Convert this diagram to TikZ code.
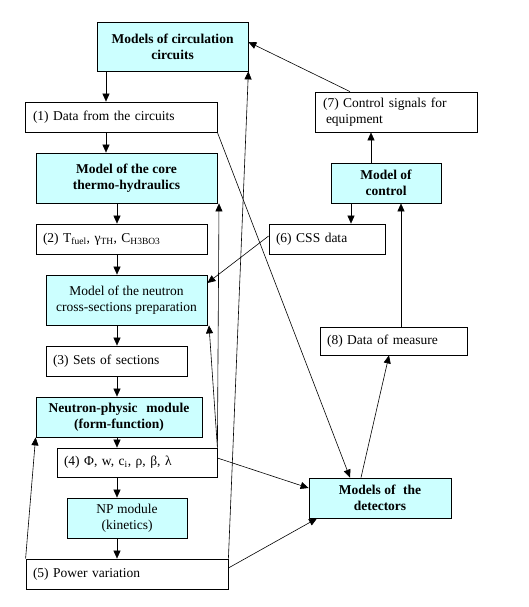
\documentclass[tikz,border=0pt]{standalone}
\usepackage{fontspec}
\setmainfont{Liberation Serif}
\usetikzlibrary{arrows.meta,calc}
\definecolor{cyanfill}{RGB}{204,255,255}
\newcommand{\dfs}{\fontsize{13.5}{16}\selectfont}
\begin{document}
\begin{tikzpicture}[x=1pt,y=-1pt,
  box/.style={draw, line width=0.8pt, inner sep=0pt, font=\dfs, fill=white},
  cbox/.style={box, fill=cyanfill, align=center},
  lbox/.style={box, align=left},
  arr/.style={line width=0.6pt, -{Triangle[length=8pt,width=7pt]}},
  ln/.style={line width=0.6pt}]
\useasboundingbox (0,0) rectangle (528,607);
% main column
\node[cbox, minimum width=151, minimum height=49] (circ) at (172.5,46.5) {\textbf{Models of circulation}\\\textbf{circuits}};
\node[lbox, minimum width=192, minimum height=30, text width=176] (d1) at (121,117) {(1) Data from the circuits};
\node[cbox, minimum width=181, minimum height=50] (core) at (126.5,178) {\textbf{Model of the core}\\\textbf{thermo-hydraulics}};
\node[lbox, minimum width=171, minimum height=30, text width=157] (d2) at (121.5,239) {(2) T\textsubscript{fuel}, γ\textsubscript{TH}, C\textsubscript{H3BO3}};
\node[cbox, minimum width=161, minimum height=50] (xs) at (126.5,300) {Model of the neutron\\cross-sections preparation};
\node[lbox, minimum width=141, minimum height=30, text width=127] (d3) at (116.5,361) {(3) Sets of sections};
\node[cbox, minimum width=166, minimum height=40] (npm) at (119,417) {\textbf{Neutron-physic\hspace{0.4em} module}\\\textbf{(form-function)}};
\node[lbox, minimum width=160, minimum height=29, text width=146] (d4) at (137,462.5) {(4) Φ, w, c\textsubscript{i}, ρ, β, λ};
\node[cbox, minimum width=120, minimum height=40] (kin) at (127,518) {NP module\\(kinetics)};
\node[lbox, minimum width=202, minimum height=30, text width=188] (d5) at (127,574) {(5) Power variation};
% right column
\node[lbox, minimum width=162, minimum height=40, text width=146] (d7) at (396,112) {(7) Control signals for\\\hspace{3pt}equipment};
\node[cbox, minimum width=110, minimum height=40] (ctrl) at (386,183) {\textbf{Model of}\\\textbf{control}};
\node[lbox, minimum width=116, minimum height=30, text width=102] (d6) at (327,239) {(6) CSS data};
\node[lbox, minimum width=147, minimum height=28, text width=133] (d8) at (393.5,341) {(8) Data of measure};
\node[cbox, minimum width=142, minimum height=40] (det) at (380,498) {\textbf{Models of\hspace{0.3em} the}\\\textbf{detectors}};
% vertical chain
\draw[arr] (circ.south -| 106,0) -- (d1.north -| 106,0);
\draw[arr] (d1.south -| 106,0) -- (core.north -| 106,0);
\draw[arr] (core.south -| 117,0) -- (d2.north -| 117,0);
\draw[arr] (d2.south -| 117,0) -- (xs.north -| 117,0);
\draw[arr] (xs.south -| 117,0) -- (d3.north -| 117,0);
\draw[arr] (d3.south -| 117,0) -- (npm.north -| 117,0);
\draw[arr] (npm.south -| 117,0) -- (d4.north -| 117,0);
\draw[arr] (d4.south -| 117,0) -- (kin.north -| 117,0);
\draw[arr] (kin.south -| 117,0) -- (d5.north -| 117,0);
% right chain
\draw[arr] (ctrl.north -| 371,0) -- (d7.south -| 371,0);
\draw[arr] (ctrl.south -| 351,0) -- (d6.north -| 351,0);
\draw[arr] (d8.north -| 401,0) -- (ctrl.south -| 401,0);
\draw[arr] (d7.north -| 350,0) -- (circ.east |- 0,42);
\draw[arr] (d6.west |- 0,236) -- (xs.east |- 0,283);
% cross connectors
\draw[arr] (d1.south east) -- (det.north -| 350,0);
\draw[arr] (det.north -| 361,0) -- (d8.south -| 389,0);
\draw[arr] (d4.east |- 0,458) -- (det.west |- 0,488);
\draw[arr] (d5.east |- 0,568) -- (det.south -| 317,0);
% feedback lines
\draw[arr] (d4.north east) -- (core.south -| 219,0);
\draw[arr] (d4.north east) -- (xs.south -| 209,0);
\draw[arr] (d5.north east) -- (circ.south east);
\draw[arr] (d5.north west) -- (npm.south west);
\end{tikzpicture}
\end{document}
